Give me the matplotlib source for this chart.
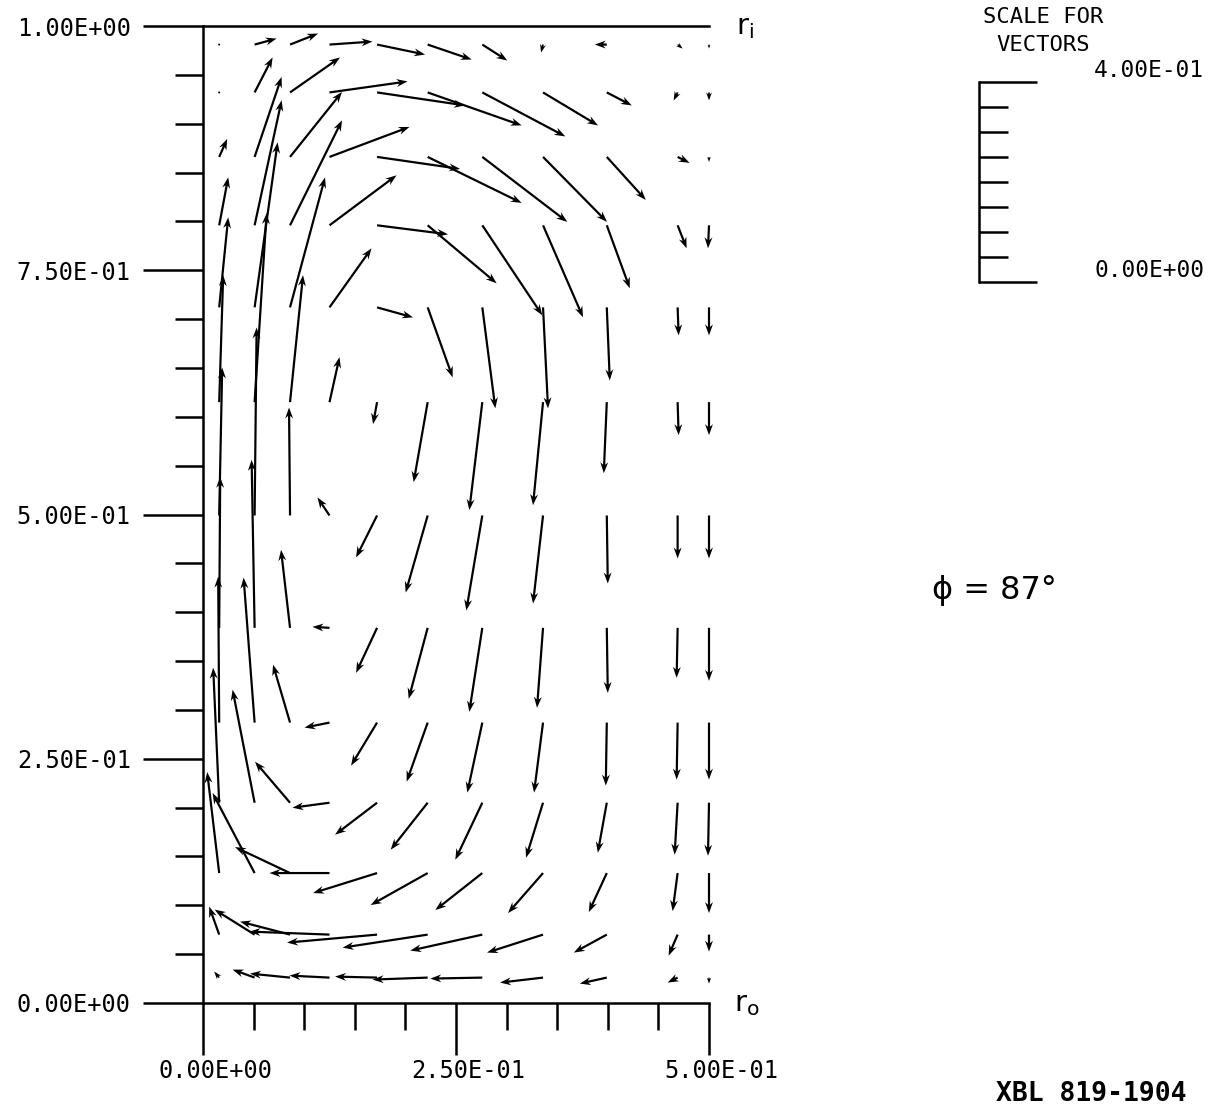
import matplotlib
matplotlib.use("Agg")
import matplotlib.pyplot as plt
import matplotlib.transforms as mtransforms
from matplotlib.ticker import FixedLocator
import numpy as np

# ---------------- data ----------------
# grid positions of the vector tails
x_grid = [0.016, 0.051, 0.086, 0.125, 0.172, 0.222, 0.276, 0.336, 0.399, 0.469, 0.500]
y_grid = [0.981, 0.932, 0.866, 0.796, 0.712, 0.615, 0.499, 0.384, 0.287, 0.205, 0.133, 0.070, 0.026]

# velocity components, one list per grid row (top to bottom), one value per column
u_row01 = [0.000, 0.044, 0.056, 0.086, 0.096, 0.088, 0.050, -0.004, -0.024, 0.010, 0.000]
v_row01 = [0.000, 0.012, 0.022, 0.006, -0.020, -0.030, -0.032, -0.016, 0.000, -0.008, -0.008]
u_row02 = [0.000, 0.036, 0.100, 0.156, 0.176, 0.188, 0.166, 0.110, 0.050, -0.008, 0.000]
v_row02 = [0.000, 0.070, 0.070, 0.022, -0.026, -0.066, -0.088, -0.066, -0.026, -0.016, -0.016]
u_row03 = [0.016, 0.054, 0.104, 0.160, 0.166, 0.188, 0.170, 0.128, 0.078, 0.024, 0.000]
v_row03 = [0.036, 0.160, 0.130, 0.060, -0.024, -0.092, -0.130, -0.130, -0.086, -0.012, -0.010]
u_row04 = [0.018, 0.054, 0.104, 0.134, 0.142, 0.138, 0.120, 0.080, 0.046, 0.018, -0.002]
v_row04 = [0.096, 0.250, 0.210, 0.100, -0.018, -0.116, -0.180, -0.184, -0.126, -0.046, -0.046]
u_row05 = [0.018, 0.046, 0.070, 0.084, 0.072, 0.050, 0.026, 0.010, 0.006, 0.002, 0.000]
v_row05 = [0.180, 0.330, 0.260, 0.118, -0.020, -0.140, -0.202, -0.202, -0.146, -0.056, -0.056]
u_row06 = [0.008, 0.024, 0.026, 0.020, -0.008, -0.028, -0.026, -0.020, -0.006, 0.002, 0.000]
v_row06 = [0.254, 0.378, 0.254, 0.090, -0.044, -0.160, -0.216, -0.206, -0.142, -0.066, -0.066]
u_row07 = [0.006, 0.004, -0.002, -0.024, -0.042, -0.044, -0.032, -0.020, 0.002, 0.000, 0.000]
v_row07 = [0.296, 0.376, 0.216, 0.036, -0.084, -0.154, -0.190, -0.176, -0.136, -0.086, -0.086]
u_row08 = [0.002, -0.006, -0.018, -0.034, -0.042, -0.038, -0.026, -0.012, 0.002, -0.002, 0.000]
v_row08 = [0.302, 0.336, 0.156, 0.002, -0.090, -0.142, -0.168, -0.160, -0.130, -0.100, -0.106]
u_row09 = [-0.002, -0.022, -0.034, -0.050, -0.052, -0.042, -0.030, -0.018, -0.002, -0.002, 0.000]
v_row09 = [0.292, 0.290, 0.116, -0.010, -0.086, -0.118, -0.140, -0.140, -0.126, -0.114, -0.114]
u_row10 = [-0.012, -0.044, -0.070, -0.074, -0.084, -0.074, -0.054, -0.034, -0.018, -0.006, -0.002]
v_row10 = [0.270, 0.226, 0.082, -0.010, -0.064, -0.094, -0.114, -0.110, -0.100, -0.104, -0.106]
u_row11 = [-0.024, -0.084, -0.110, -0.120, -0.128, -0.114, -0.094, -0.070, -0.036, -0.010, 0.000]
v_row11 = [0.202, 0.160, 0.052, 0.000, -0.040, -0.064, -0.074, -0.080, -0.078, -0.076, -0.080]
u_row12 = [-0.020, -0.080, -0.100, -0.160, -0.180, -0.170, -0.144, -0.112, -0.066, -0.018, 0.000]
v_row12 = [0.056, 0.050, 0.026, 0.006, -0.016, -0.026, -0.032, -0.036, -0.036, -0.042, -0.034]
u_row13 = [-0.010, -0.044, -0.080, -0.080, -0.084, -0.110, -0.104, -0.086, -0.054, -0.020, 0.000]
v_row13 = [0.012, 0.016, 0.008, 0.004, 0.002, -0.004, -0.002, -0.010, -0.012, -0.010, -0.012]

x_major_ticks = [0.0, 0.25, 0.5]
y_major_ticks = [0.0, 0.25, 0.5, 0.75, 1.0]
minor_step = 0.05

scale_major = [0.0, 0.4]          # scale for vectors
scale_minor = [0.05, 0.10, 0.15, 0.20, 0.25, 0.30, 0.35]

phi_label = "\u03d5 = 87\u00b0"
figure_id = "XBL 819-1904"

# ---------------- figure ----------------
W, H = 1209, 1116
fig = plt.figure(figsize=(W / 100, H / 100), dpi=100)
fig.patch.set_facecolor("white")

mono = "DejaVu Sans Mono"
ax = fig.add_axes([203 / W, (H - 1003) / H, 506 / W, 977 / H])
ax.set_xlim(0, 0.5)
ax.set_ylim(0, 1)

U = np.array([u_row01, u_row02, u_row03, u_row04, u_row05, u_row06, u_row07,
              u_row08, u_row09, u_row10, u_row11, u_row12, u_row13])
V = np.array([v_row01, v_row02, v_row03, v_row04, v_row05, v_row06, v_row07,
              v_row08, v_row09, v_row10, v_row11, v_row12, v_row13])
X, Y = np.meshgrid(x_grid, y_grid)

q = ax.quiver(X, Y, U, V, angles="uv", scale_units="inches", scale=0.2,
              units="dots", width=2.2, headwidth=3.6, headlength=5.0,
              headaxislength=3.8, color="black", pivot="tail")
q.set_clip_on(False)

for side in ["left", "bottom", "top"]:
    ax.spines[side].set_linewidth(1.8)
    ax.spines[side].set_color("black")
ax.spines["right"].set_visible(False)

ax.xaxis.set_major_locator(FixedLocator(x_major_ticks))
ax.yaxis.set_major_locator(FixedLocator(y_major_ticks))
ax.xaxis.set_minor_locator(FixedLocator(list(np.arange(0, 0.5001, minor_step))))
ax.yaxis.set_minor_locator(FixedLocator(list(np.arange(0, 1.0001, minor_step))))
ax.set_xticklabels(["{:.2E}".format(v) for v in x_major_ticks], family=mono, fontsize=17)
ax.set_yticklabels(["{:.2E}".format(v) for v in y_major_ticks], family=mono, fontsize=17)

ax.tick_params(axis="y", which="major", direction="out", length=43, width=1.8, pad=9)
ax.tick_params(axis="y", which="minor", direction="out", length=20, width=1.8)
ax.tick_params(axis="x", which="major", direction="out", length=37.5, width=1.8, pad=3)
ax.tick_params(axis="x", which="minor", direction="out", length=19.5, width=1.8)

shift = mtransforms.ScaledTranslation(12 / 100, 0, fig.dpi_scale_trans)
for tk in ax.xaxis.get_major_ticks():
    tk.label1.set_transform(tk.label1.get_transform() + shift)

# r_i and r_o labels
fig.text(736 / W, 1 - 27 / H, r"$\mathrm{r}_\mathrm{i}$", fontsize=21, ha="left", va="center")
fig.text(734 / W, 1 - 1004 / H, r"$\mathrm{r}_\mathrm{o}$", fontsize=21, ha="left", va="center")

# ---------------- scale for vectors ----------------
sax = fig.add_axes([979 / W, (H - 282) / H, 80 / W, 200 / H])
sax.set_ylim(0, 0.4)
sax.set_xlim(0, 1)
sax.patch.set_visible(False)
for side in ["right", "top", "bottom"]:
    sax.spines[side].set_visible(False)
sax.spines["left"].set_linewidth(1.8)
sax.set_xticks([])
sax.yaxis.set_major_locator(FixedLocator(scale_major))
sax.yaxis.set_minor_locator(FixedLocator(scale_minor))
sax.tick_params(axis="y", which="major", direction="in", length=41.5, width=1.8, labelleft=False)
sax.tick_params(axis="y", which="minor", direction="in", length=21, width=1.8)
btr = mtransforms.blended_transform_factory(fig.transFigure, sax.transData)
for v in scale_major:
    fig.text(1204 / W, v, "{:.2E}".format(v), transform=btr, ha="right", va="bottom",
             family=mono, fontsize=16.5)

fig.text(1043 / W, 1 - 17 / H, "SCALE FOR", ha="center", va="center", family=mono, fontsize=16)
fig.text(1043 / W, 1 - 45 / H, "VECTORS", ha="center", va="center", family=mono, fontsize=16)

fig.text(932 / W, 1 - 590 / H, phi_label, ha="left", va="center", fontsize=23,
         family="DejaVu Sans")
fig.text(1187 / W, 1 - 1094 / H, figure_id, ha="right", va="center", family=mono,
         fontsize=19, fontweight="bold")

fig.savefig("out.png", dpi=100, facecolor="white")
